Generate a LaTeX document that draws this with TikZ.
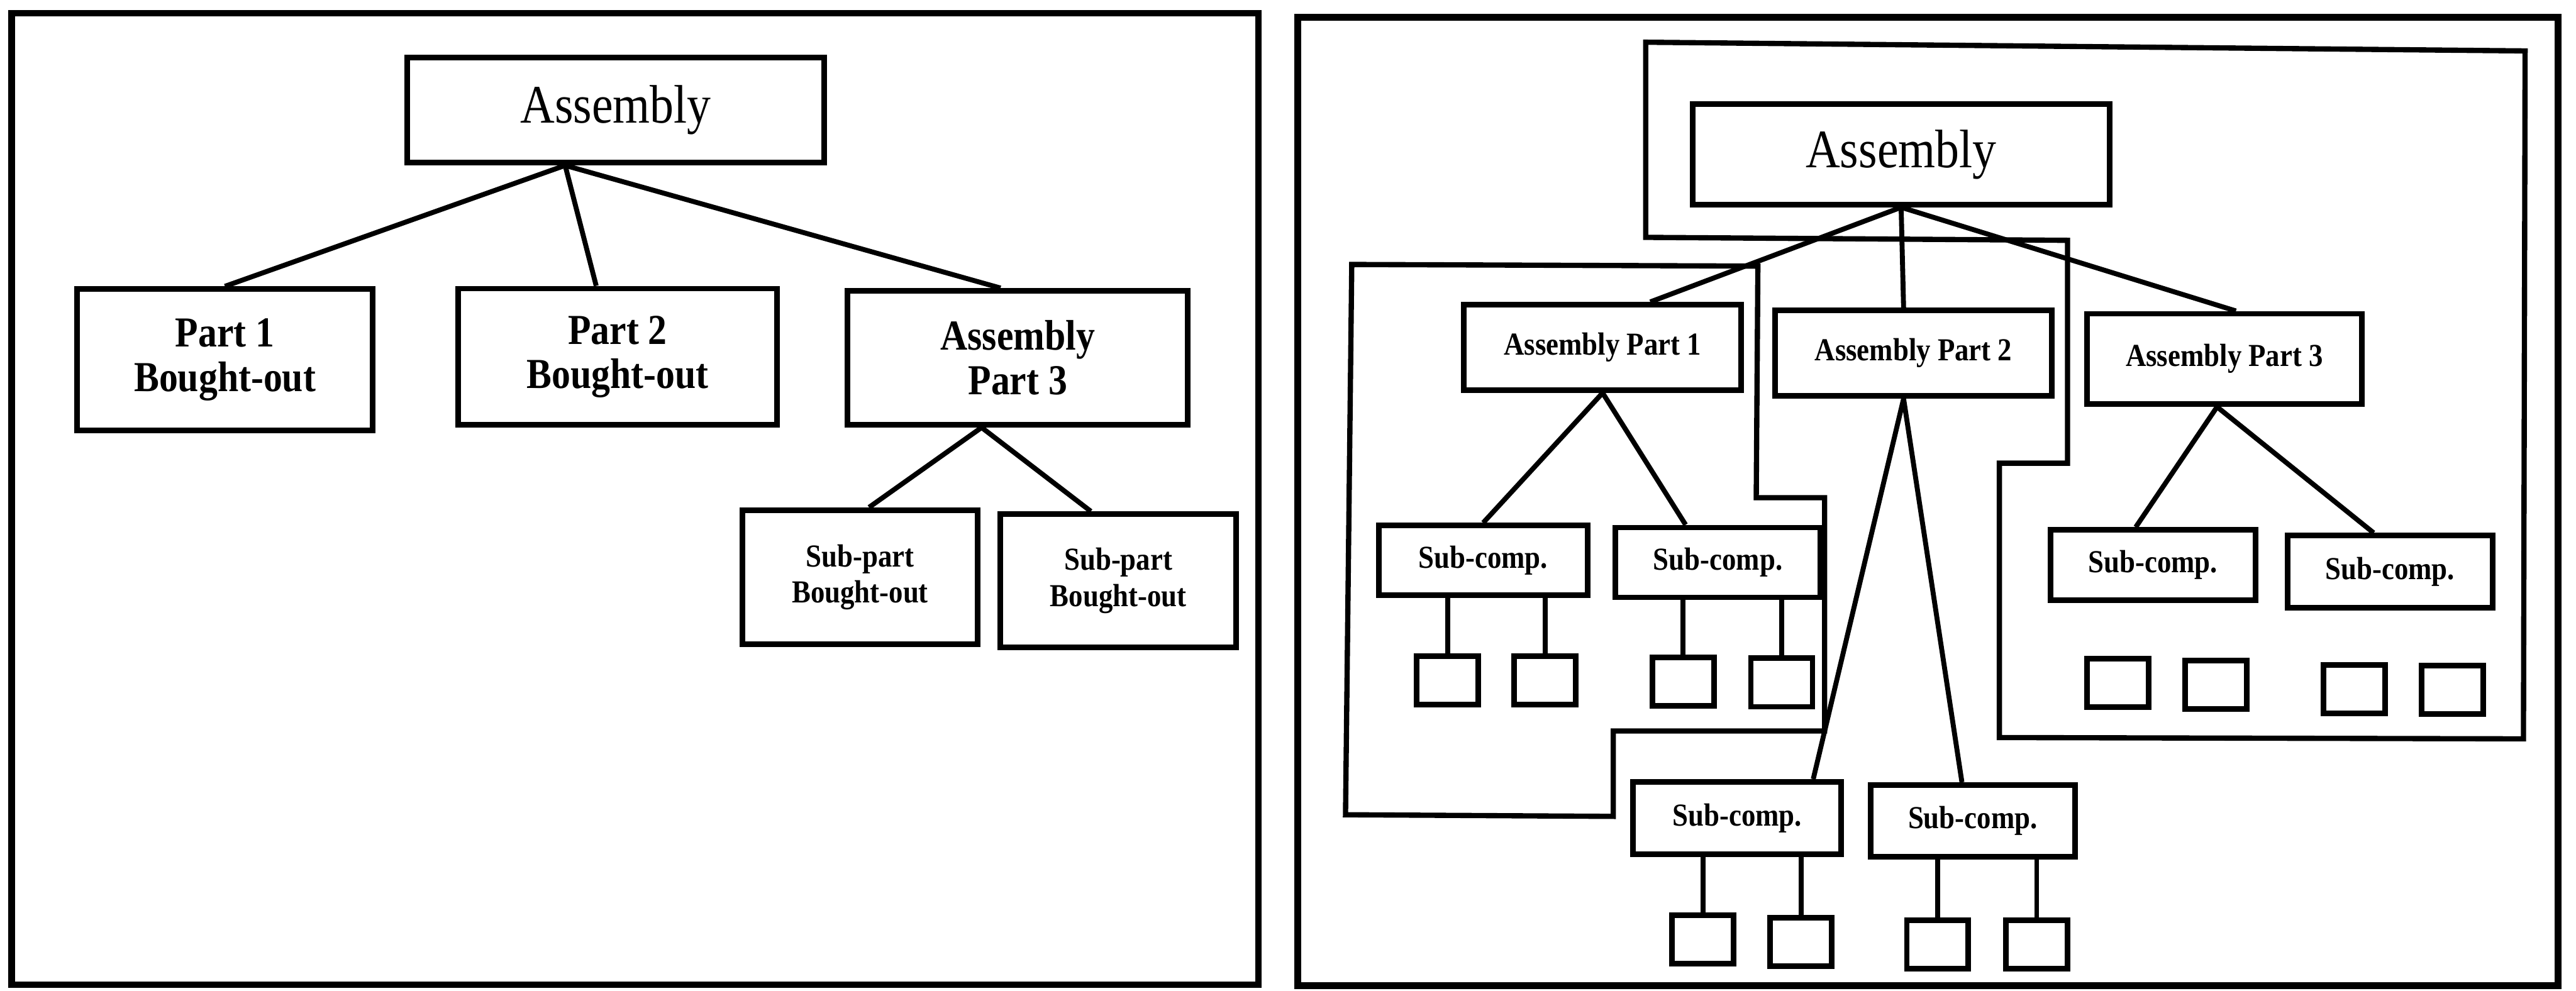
\documentclass[tikz,border=0pt]{standalone}
\usepackage{fontspec}
\setmainfont{Liberation Serif}
\newfontfamily\cond[FakeStretch=0.88]{Liberation Serif}
\begin{document}
\begin{tikzpicture}[x=1pt,y=-1pt,
  box/.style={draw, line width=3.4pt, inner sep=0pt, align=center},
  topbox/.style={box, font={\cond\fontsize{33}{38}\selectfont}},
  partbox/.style={box, font={\cond\bfseries\fontsize{26}{27}\selectfont}},
  subbox/.style={box, font={\cond\bfseries\fontsize{19.5}{22}\selectfont}},
  rbox/.style={box, font={\cond\bfseries\fontsize{19.5}{22}\selectfont}},
  cbox/.style={box, font={\cond\bfseries\fontsize{19.5}{22}\selectfont}},
  leaf/.style={draw, line width=3.4pt, inner sep=0pt, minimum width=37.5pt, minimum height=29.5pt},
  link/.style={line width=3pt},
  frame/.style={line width=4pt},
  group/.style={line width=3.2pt, line join=miter}
]
\useasboundingbox (0,0) rectangle (1568,603);

% ---------- outer frames ----------
\draw[frame] (7,8) rectangle (766,599.5);
\draw[frame] (790,10.5) rectangle (1557,600);

% ---------- left: conventional bill of materials ----------
\node[topbox, minimum width=254pt, minimum height=64pt] (LA) at (374.8,67) {Assembly};
\node[partbox, minimum width=180pt, minimum height=86pt] (LP1) at (136.9,219) {Part 1\\Bought-out};
\node[partbox, minimum width=194pt, minimum height=83pt] (LP2) at (375.9,217.2) {Part 2\\Bought-out};
\node[partbox, minimum width=207pt, minimum height=81.5pt] (LP3) at (619.5,217.8) {Assembly\\Part 3};
\node[subbox, minimum width=143pt, minimum height=81.5pt] (LS1) at (523.5,351.3) {Sub-part\\Bought-out};
\node[subbox, minimum width=143.4pt, minimum height=81pt] (LS2) at (680.7,353.5) {Sub-part\\Bought-out};

\coordinate (LAo) at ([xshift=-30.8pt]LA.south);
\draw[link] (LAo) -- (LP1.north);
\draw[link] (LAo) -- ([xshift=-13pt]LP2.north);
\draw[link] (LAo) -- ([xshift=-10.5pt]LP3.north);
\coordinate (LP3o) at ([xshift=-22pt]LP3.south);
\draw[link] (LP3o) -- ([xshift=5.5pt]LS1.north);
\draw[link] (LP3o) -- ([xshift=-16.7pt]LS2.north);

% ---------- right: grouped structure ----------
% group outlines
\draw[group] (1001.7,25.7) -- (1537,31) -- (1536,449.8) -- (1217,449) -- (1217,282)
  -- (1258.5,282) -- (1258.5,146.3) -- (1001.7,144.5) -- cycle;
\draw[group] (822.8,161) -- (1070,162) -- (1069,303) -- (1110.6,303) -- (1110.6,445)
  -- (982,445) -- (982,497) -- (819,496) -- cycle;

\node[topbox, minimum width=254pt, minimum height=61pt] (RA) at (1157.2,94) {Assembly};
\node[rbox, minimum width=168.7pt, minimum height=52pt] (R1) at (975.5,211.5) {Assembly Part 1};
\node[rbox, minimum width=168.5pt, minimum height=52pt] (R2) at (1164.7,215) {Assembly Part 2};
\node[rbox, minimum width=167.3pt, minimum height=55pt] (R3) at (1354,218.5) {Assembly Part 3};

\node[cbox, minimum width=127pt, minimum height=42.5pt] (R11) at (902.8,341.2) {Sub-comp.};
\node[cbox, minimum width=125pt, minimum height=42.5pt] (R12) at (1045.7,342.4) {Sub-comp.};
\node[cbox, minimum width=126.8pt, minimum height=44.2pt] (R21) at (1057.4,498.1) {Sub-comp.};
\node[cbox, minimum width=124.5pt, minimum height=43.8pt] (R22) at (1200.8,499.8) {Sub-comp.};
\node[cbox, minimum width=125pt, minimum height=42.8pt] (R31) at (1310.5,344) {Sub-comp.};
\node[cbox, minimum width=125pt, minimum height=43.8pt] (R32) at (1454.8,348) {Sub-comp.};

\node[leaf] (R11a) at (881.1,414.3) {};
\node[leaf] (R11b) at (940.5,414.3) {};
\node[leaf] (R12a) at (1024.5,415) {};
\node[leaf] (R12b) at (1084.5,415.5) {};
\node[leaf] (R21a) at (1036.6,572) {};
\node[leaf] (R21b) at (1096.3,573.5) {};
\node[leaf] (R22a) at (1179.4,575) {};
\node[leaf] (R22b) at (1239.7,575) {};
\node[leaf] (R31a) at (1289,415.8) {};
\node[leaf] (R31b) at (1348.8,416.9) {};
\node[leaf] (R32a) at (1433.1,419.4) {};
\node[leaf] (R32b) at (1492.8,420) {};

\draw[link] (RA.south) -- ([xshift=29pt]R1.north);
\draw[link] (RA.south) -- ([xshift=-6pt]R2.north);
\draw[link] (RA.south) -- ([xshift=7pt]R3.north);
\draw[link] (R1.south) -- (R11.north);
\draw[link] (R1.south) -- ([xshift=-19.7pt]R12.north);
\coordinate (R2o) at ([xshift=-6pt]R2.south);
\draw[link] (R2o) -- ([xshift=46.3pt]R21.north);
\draw[link] (R2o) -- ([xshift=-6.6pt]R22.north);
\coordinate (R3o) at ([xshift=-4.5pt]R3.south);
\draw[link] (R3o) -- ([xshift=-10.5pt]R31.north);
\draw[link] (R3o) -- ([xshift=-10pt]R32.north);

\foreach \s/\l in {R11/R11a, R11/R11b, R12/R12a, R12/R12b,
                   R21/R21a, R21/R21b, R22/R22a, R22/R22b}
  \draw[link] (\l.north) -- (\l.north |- \s.south);
\end{tikzpicture}
\end{document}
